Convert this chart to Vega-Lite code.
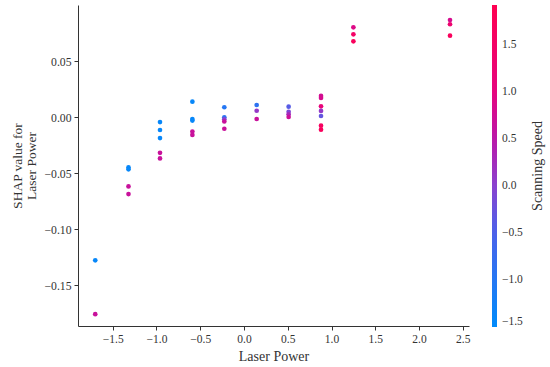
{
  "$schema": "https://vega.github.io/schema/vega-lite/v6.json",
  "width": 391,
  "height": 321,
  "autosize": "none",
  "padding": {"left": 78, "top": 5, "right": 81, "bottom": 41},
  "background": "white",
  "config": {
    "view": {"stroke": null},
    "font": "Liberation Serif",
    "axis": {"labelFont": "Liberation Serif", "titleFont": "Liberation Serif"},
    "legend": {"labelFont": "Liberation Serif", "titleFont": "Liberation Serif"},
    "style": {"guide-label": {"font": "Liberation Serif"}, "guide-title": {"font": "Liberation Serif"}}
  },
  "data": {
    "values": [
      {"lp": -1.70, "shap": -0.128, "ss": -1.4},
      {"lp": -1.70, "shap": -0.176, "ss": 0.65},
      {"lp": -1.32, "shap": -0.045, "ss": -1.4},
      {"lp": -1.32, "shap": -0.0467, "ss": -1.4},
      {"lp": -1.32, "shap": -0.062, "ss": 0.65},
      {"lp": -1.32, "shap": -0.0688, "ss": 0.65},
      {"lp": -0.96, "shap": -0.0045, "ss": -1.4},
      {"lp": -0.96, "shap": -0.0116, "ss": -1.4},
      {"lp": -0.96, "shap": -0.0188, "ss": -1.4},
      {"lp": -0.96, "shap": -0.032, "ss": 0.65},
      {"lp": -0.96, "shap": -0.037, "ss": 0.65},
      {"lp": -0.59, "shap": 0.0137, "ss": -1.4},
      {"lp": -0.59, "shap": -0.0018, "ss": -1.4},
      {"lp": -0.59, "shap": -0.0032, "ss": -1.4},
      {"lp": -0.59, "shap": -0.013, "ss": 0.65},
      {"lp": -0.59, "shap": -0.016, "ss": 0.65},
      {"lp": -0.225, "shap": 0.0087, "ss": -1.0},
      {"lp": -0.225, "shap": -0.0003, "ss": -0.9},
      {"lp": -0.225, "shap": -0.002, "ss": 0.0},
      {"lp": -0.225, "shap": -0.004, "ss": 0.65},
      {"lp": -0.225, "shap": -0.0105, "ss": 0.65},
      {"lp": 0.145, "shap": 0.0107, "ss": -0.9},
      {"lp": 0.145, "shap": 0.0056, "ss": 0.1},
      {"lp": 0.145, "shap": -0.0018, "ss": 0.65},
      {"lp": 0.51, "shap": 0.0092, "ss": -0.4},
      {"lp": 0.51, "shap": 0.0047, "ss": -0.1},
      {"lp": 0.51, "shap": 0.0024, "ss": 0.3},
      {"lp": 0.51, "shap": 0.0, "ss": 0.7},
      {"lp": 0.88, "shap": 0.0188, "ss": 0.75},
      {"lp": 0.88, "shap": 0.017, "ss": 0.8},
      {"lp": 0.88, "shap": 0.0095, "ss": 1.1},
      {"lp": 0.88, "shap": 0.0054, "ss": 0.1},
      {"lp": 0.88, "shap": 0.0009, "ss": -0.3},
      {"lp": 0.88, "shap": -0.0077, "ss": 1.6},
      {"lp": 0.88, "shap": -0.0113, "ss": 1.7},
      {"lp": 1.25, "shap": 0.0801, "ss": 0.9},
      {"lp": 1.25, "shap": 0.0738, "ss": 1.5},
      {"lp": 1.25, "shap": 0.0676, "ss": 1.7},
      {"lp": 2.354, "shap": 0.0866, "ss": 0.8},
      {"lp": 2.354, "shap": 0.0828, "ss": 1.3},
      {"lp": 2.354, "shap": 0.0726, "ss": 1.7}
    ]
  },
  "encoding": {
    "x": {
      "field": "lp", "type": "quantitative",
      "scale": {"domain": [-1.897, 2.571], "nice": false, "zero": false},
      "axis": {
        "title": "Laser Power", "values": [-1.5, -1, -0.5, 0, 0.5, 1, 1.5, 2, 2.5],
        "format": ".1f", "grid": false, "domainColor": "#333", "tickColor": "#333",
        "tickSize": 4, "labelFont": "Liberation Serif", "labelFontSize": 11.5, "labelColor": "#333", "labelPadding": 3,
        "titleFont": "Liberation Serif", "titleFontSize": 14, "titleFontWeight": "normal", "titleColor": "#333", "titlePadding": 5
      }
    }
  },
  "layer": [
    {
      "mark": {"type": "circle", "size": 22, "opacity": 1},
      "encoding": {
        "y": {
          "field": "shap", "type": "quantitative",
          "scale": {"domain": [-0.1866, 0.1], "nice": false, "zero": false},
          "axis": {
            "title": ["SHAP value for", "Laser Power"], "values": [-0.15, -0.1, -0.05, 0, 0.05],
            "format": ".2f", "grid": false, "domainColor": "#333", "tickColor": "#333",
            "tickSize": 4, "labelFont": "Liberation Serif", "labelFontSize": 11.7, "labelColor": "#333", "labelPadding": 3,
            "titleFont": "Liberation Serif", "titleFontSize": 13.5, "titleFontWeight": "normal", "titleColor": "#333",
            "titleLineHeight": 14, "titlePadding": 5
          }
        },
        "color": {
          "field": "ss", "type": "quantitative",
          "scale": {
            "domain": [-1.5, -0.5, 0, 0.5, 1.0, 1.92],
            "range": ["#008bfb", "#4a62ea", "#8a42cf", "#bb16a8", "#e6067e", "#ff0051"],
            "interpolate": "rgb", "nice": false
          },
          "legend": {
            "title": null, "orient": "none", "legendX": 414, "legendY": 0,
            "direction": "vertical",
            "gradientLength": 322, "gradientThickness": 5, "gradientStrokeWidth": 0,
            "values": [-1.5, -1, -0.5, 0, 0.5, 1, 1.5], "format": ".1f",
            "labelFont": "Liberation Serif", "labelFontSize": 11.5, "labelColor": "#333", "labelOffset": 5
          }
        }
      }
    },
    {
      "mark": {"type": "circle", "size": 22, "opacity": 0},
      "encoding": {
        "y": {
          "field": "shap", "type": "quantitative",
          "scale": {"domain": [-0.1866, 0.1], "nice": false, "zero": false},
          "axis": {
            "orient": "right", "title": "Scanning Speed", "labels": false, "ticks": false,
            "domain": false, "grid": false, "titleAngle": 270, "titlePadding": 75,
            "titleFont": "Liberation Serif", "titleFontSize": 14, "titleFontWeight": "normal", "titleColor": "#333"
          }
        }
      }
    }
  ],
  "resolve": {"scale": {"y": "independent"}}
}
